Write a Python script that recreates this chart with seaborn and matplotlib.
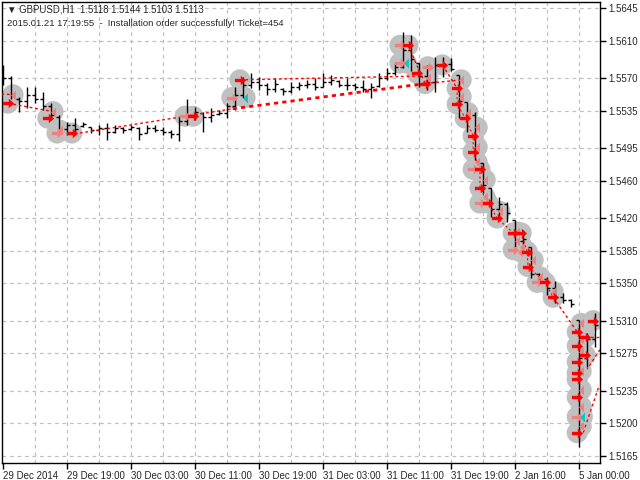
import matplotlib
matplotlib.use("Agg")
import matplotlib.pyplot as plt
from matplotlib.path import Path
import seaborn as sns
import numpy as np

sns.set_theme(style="white")
plt.rcParams["font.family"] = ["Liberation Sans", "DejaVu Sans"]

# ── OHLC data (GBPUSD H1) ───────────────────────────────────────────────────
highs = [1.5584, 1.5572, 1.5550, 1.5560, 1.5560, 1.5555, 1.5543, 1.5530, 1.5523, 1.5527,
         1.5523, 1.5518, 1.5520, 1.5522, 1.5520, 1.5518, 1.5520, 1.5517, 1.5520, 1.5520,
         1.5517, 1.5514, 1.5528, 1.5547, 1.5539, 1.5534, 1.5538, 1.5536, 1.5543, 1.5560,
         1.5571, 1.5575, 1.5571, 1.5565, 1.5570, 1.5559, 1.5566, 1.5566, 1.5568, 1.5570,
         1.5575, 1.5573, 1.5568, 1.5570, 1.5565, 1.5568, 1.5565, 1.5575, 1.5581, 1.5586,
         1.5619, 1.5616, 1.5586, 1.5584, 1.5593, 1.5593, 1.5591, 1.5573, 1.5544, 1.5534,
         1.5479, 1.5452, 1.5442, 1.5437, 1.5418, 1.5407, 1.5389, 1.5361, 1.5357, 1.5352,
         1.5340, 1.5333, 1.5311, 1.5297, 1.5318]
lows = [1.5563, 1.5547, 1.5534, 1.5538, 1.5543, 1.5536, 1.5527, 1.5512, 1.5509, 1.5511,
        1.5518, 1.5511, 1.5509, 1.5504, 1.5511, 1.5511, 1.5514, 1.5504, 1.5511, 1.5512,
        1.5509, 1.5506, 1.5503, 1.5520, 1.5525, 1.5512, 1.5523, 1.5530, 1.5527, 1.5536,
        1.5549, 1.5559, 1.5557, 1.5552, 1.5555, 1.5552, 1.5554, 1.5557, 1.5559, 1.5557,
        1.5560, 1.5563, 1.5560, 1.5557, 1.5557, 1.5555, 1.5549, 1.5560, 1.5568, 1.5573,
        1.5581, 1.5577, 1.5560, 1.5557, 1.5555, 1.5571, 1.5577, 1.5527, 1.5512, 1.5482,
        1.5447, 1.5421, 1.5418, 1.5416, 1.5389, 1.5386, 1.5356, 1.5351, 1.5338, 1.5329,
        1.5329, 1.5325, 1.5175, 1.5260, 1.5282]
opens = [1.5578, 1.5570, 1.5548, 1.5545, 1.5552, 1.5548, 1.5540, 1.5528, 1.5515, 1.5520,
         1.5519, 1.5517, 1.5514, 1.5516, 1.5512, 1.5516, 1.5515, 1.5516, 1.5511, 1.5516,
         1.5514, 1.5512, 1.5510, 1.5524, 1.5530, 1.5532, 1.5528, 1.5531, 1.5533, 1.5540,
         1.5552, 1.5562, 1.5566, 1.5562, 1.5558, 1.5558, 1.5556, 1.5560, 1.5562, 1.5564,
         1.5560, 1.5566, 1.5567, 1.5563, 1.5562, 1.5560, 1.5558, 1.5561, 1.5570, 1.5575,
         1.5582, 1.5600, 1.5586, 1.5572, 1.5566, 1.5584, 1.5585, 1.5573, 1.5544, 1.5530,
         1.5479, 1.5452, 1.5430, 1.5435, 1.5418, 1.5395, 1.5389, 1.5360, 1.5355, 1.5345,
         1.5335, 1.5332, 1.5311, 1.5270, 1.5290]
closes = [1.5570, 1.5552, 1.5545, 1.5552, 1.5548, 1.5540, 1.5530, 1.5515, 1.5520, 1.5515,
          1.5521, 1.5514, 1.5516, 1.5512, 1.5516, 1.5514, 1.5518, 1.5510, 1.5516, 1.5514,
          1.5512, 1.5510, 1.5524, 1.5530, 1.5534, 1.5528, 1.5530, 1.5533, 1.5540, 1.5552,
          1.5562, 1.5566, 1.5562, 1.5558, 1.5564, 1.5556, 1.5560, 1.5562, 1.5564, 1.5560,
          1.5566, 1.5568, 1.5563, 1.5562, 1.5560, 1.5558, 1.5560, 1.5570, 1.5575, 1.5582,
          1.5600, 1.5590, 1.5572, 1.5566, 1.5584, 1.5585, 1.5580, 1.5545, 1.5530, 1.5490,
          1.5455, 1.5430, 1.5435, 1.5425, 1.5395, 1.5398, 1.5360, 1.5355, 1.5345, 1.5335,
          1.5332, 1.5328, 1.5270, 1.5290, 1.5305]

x_ticks = [0, 8, 16, 24, 32, 40, 48, 56, 64, 72]
x_labels = ["29 Dec 2014", "29 Dec 19:00", "30 Dec 03:00", "30 Dec 11:00", "30 Dec 19:00",
            "31 Dec 03:00", "31 Dec 11:00", "31 Dec 19:00", "2 Jan 16:00", "5 Jan 00:00"]
y_ticks = [1.5645, 1.5610, 1.5570, 1.5535, 1.5495, 1.5460, 1.5420, 1.5385, 1.5350,
           1.5310, 1.5275, 1.5235, 1.5200, 1.5165]

# ── trade arrows (bar index, price) ─────────────────────────────────────────
red_x = [0.6, 5.6, 8.6, 23.75, 29.6, 50.6, 51.75, 52.75, 54.9, 56.75, 56.75, 57.75,
         58.75, 58.75, 59.6, 59.6, 60.6, 61.75, 63.75, 64.75, 65.5, 65.6, 67.75, 68.75,
         73.75, 71.75, 72.75, 71.75, 72.75, 71.75, 71.75, 71.75, 71.75, 71.75]
red_y = [1.5543, 1.5527, 1.5511, 1.5529, 1.5568, 1.5605, 1.5575, 1.5564, 1.5584, 1.5559,
         1.5542, 1.5527, 1.5508, 1.5491, 1.5472, 1.5452, 1.5436, 1.5420, 1.5404, 1.5404,
         1.5384, 1.5368, 1.5351, 1.5335, 1.5310, 1.5298, 1.5292, 1.5283, 1.5273, 1.5266,
         1.5254, 1.5247, 1.5228, 1.5190]
pink_tri_x = [1.25, 6.25, 7.1, 53.1, 57.25, 57.25, 58.1, 59.25, 59.25, 59.25, 60.25, 60.25,
              62.1, 64.25, 64.25, 64.9, 64.6, 66.25, 67.1, 68.75, 72.25, 72.25, 72.25,
              72.25, 72.25, 72.25, 72.25]
pink_tri_y = [1.5552, 1.5534, 1.5514, 1.5570, 1.5568, 1.5550, 1.5533, 1.5517, 1.5496,
              1.5480, 1.5461, 1.5442, 1.5427, 1.5405, 1.5395, 1.5389, 1.5384, 1.5375,
              1.5357, 1.5341, 1.5307, 1.5290, 1.5276, 1.5256, 1.5236, 1.5218, 1.5197]
pink_arr_x = [6.75, 22.75, 28.6, 49.6, 49.6, 53.1, 58.75, 59.6, 63.75, 66.75, 71.75]
pink_arr_y = [1.5511, 1.5529, 1.5549, 1.5605, 1.5586, 1.5582, 1.5472, 1.5436, 1.5386,
              1.5351, 1.5207]
cyan_x = [30.25, 50.4, 72.4]
cyan_y = [1.5549, 1.5586, 1.5207]

# dotted trade lines: (x0, y0, x1, y1)
thin_lines = [(-0.2, 1.5553, 1.25, 1.5552), (0.6, 1.5543, 6.25, 1.5534),
              (9.6, 1.5511, 28.7, 1.5537), (29.6, 1.5568, 51.75, 1.5572),
              (52.75, 1.5564, 57.25, 1.5568), (50.6, 1.5605, 52.75, 1.5564),
              (54.9, 1.5584, 56.75, 1.5559), (68.75, 1.5335, 71.75, 1.5298),
              (72.75, 1.5292, 74.6, 1.5292), (74.6, 1.5279, 73.0, 1.5258),
              (74.4, 1.5238, 72.5, 1.5190)]
thick_lines = [(28.7, 1.5537, 52.75, 1.5564)]
chain_x = [56.75, 56.75, 57.75, 58.75, 58.75, 59.6, 59.6, 60.6, 61.75, 63.75, 64.75,
           65.5, 65.6, 67.75, 68.75]
chain_y = [1.5559, 1.5542, 1.5527, 1.5508, 1.5491, 1.5472, 1.5452, 1.5436, 1.5420,
           1.5404, 1.5404, 1.5384, 1.5368, 1.5351, 1.5335]

# ── figure ──────────────────────────────────────────────────────────────────
fig = plt.figure(figsize=(6.4, 4.8), dpi=100)
ax = fig.add_axes([2 / 640, 17 / 480, 598 / 640, 461 / 480])
ax.set_xlim(-0.125, 74.6)
ax.set_ylim(1.51575, 1.56514)

grid_kw = dict(color="#c0c0c0", lw=0.9, ls=(0, (3, 3)), zorder=0)
for gx in range(4, 75, 4):
    ax.axvline(gx, **grid_kw)
for gy in y_ticks:
    ax.axhline(gy, **grid_kw)

# gray halos behind the trade marks
halo_x = red_x + pink_tri_x + pink_arr_x + cyan_x
halo_y = red_y + pink_tri_y + pink_arr_y + cyan_y
sns.scatterplot(x=halo_x, y=halo_y, s=230, color="#c0c0c0", edgecolor="none",
                ax=ax, legend=False, zorder=1)

# OHLC bars
idx = np.arange(len(highs))
ax.vlines(idx, lows, highs, color="black", lw=1, zorder=2)
ax.hlines(opens, idx - 0.375, idx, color="black", lw=1, zorder=2)
ax.hlines(closes, idx, idx + 0.375, color="black", lw=1, zorder=2)

for x0, y0, x1, y1 in thin_lines:
    ax.plot([x0, x1], [y0, y1], color="red", lw=1, ls=(0, (2, 2)), zorder=3)
for x0, y0, x1, y1 in thick_lines:
    ax.plot([x0, x1], [y0, y1], color="red", lw=2, ls=(0, (1.5, 1.5)), zorder=3)
ax.plot(chain_x, chain_y, color="red", lw=0.8, ls=(0, (2, 2)), zorder=3)

arrow = Path([(-1, -0.3), (0.05, -0.3), (0.05, -0.85), (1, 0), (0.05, 0.85), (0.05, 0.3),
              (-1, 0.3), (-1, -0.3)], closed=True)
tri = Path([(0.5, -1), (0.5, 1), (-0.5, 0), (0.5, -1)], closed=True)
ax.scatter(pink_arr_x, pink_arr_y, marker=arrow, s=65, color="#f08080", lw=0, zorder=4)
ax.scatter(pink_tri_x, pink_tri_y, marker=tri, s=50, color="#f08080", lw=0, zorder=4)
ax.scatter(cyan_x, cyan_y, marker=tri, s=50, color="#00c8c8", lw=0, zorder=4)
ax.scatter(red_x, red_y, marker=arrow, s=65, color="red", lw=0, zorder=5)

# axes styling
for sp in ax.spines.values():
    sp.set_color("black")
    sp.set_linewidth(1)
ax.yaxis.tick_right()
ax.set_yticks(y_ticks)
ax.set_yticklabels([f"{v:.4f}" for v in y_ticks])
ax.set_xticks(x_ticks)
ax.set_xticklabels(x_labels)
for lbl in ax.get_xticklabels():
    lbl.set_ha("left")
ax.tick_params(axis="both", direction="out", length=4, width=1, color="black",
               labelsize=7, pad=2)
ax.tick_params(axis="y", right=True, left=False)
ax.tick_params(axis="x", bottom=True)

fig.text(7 / 640, 1 - 10 / 480, "\u25bc GBPUSD,H1  1.5118 1.5144 1.5103 1.5113",
         fontsize=6.9, va="center", ha="left")
fig.text(7 / 640, 1 - 24 / 480,
         "2015.01.21 17:19:55  -  Installation order successfully! Ticket=454",
         fontsize=6.8, va="center", ha="left")

fig.savefig("out.png", dpi=100)
